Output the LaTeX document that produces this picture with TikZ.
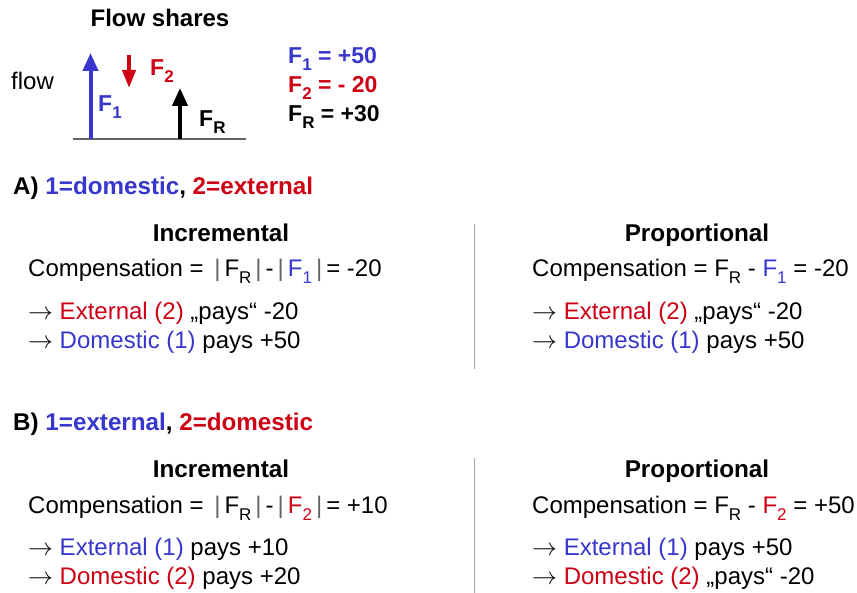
\documentclass[tikz,border=0pt]{standalone}
\usepackage{fontspec}
\setmainfont{Liberation Sans}
\usetikzlibrary{arrows.meta}
\definecolor{myblue}{RGB}{55,55,205}
\definecolor{myred}{RGB}{205,0,20}
\newcommand\sbs[1]{\raisebox{-7pt}{\fontsize{17}{17}\selectfont #1}}
\newcommand\ab{{\color{gray!80!black}\,|\,}}
\newcommand\ra{$\rightarrow$}
\begin{document}
\begin{tikzpicture}[x=1pt,y=-1pt,
  body/.style={inner sep=0pt,anchor=base west,font=\fontsize{24}{28}\selectfont},
  ttl/.style={inner sep=0pt,anchor=base,font=\fontsize{24.3}{28}\selectfont\bfseries},
  hdr/.style={inner sep=0pt,anchor=base west,font=\fontsize{24.2}{28}\selectfont\bfseries},
  lbl/.style={inner sep=0pt,anchor=base west,font=\fontsize{23}{26}\selectfont\bfseries},
  farrow/.style={line width=4pt,-{Triangle[width=15pt,length=18pt]}},
  divider/.style={draw=gray!70,line width=0.8pt}]
\useasboundingbox (0,0) rectangle (857,593);
% top panel
\node[ttl,font=\fontsize{24}{28}\selectfont\bfseries] (fs) at (160,27) {Flow shares};
\node[body,font=\fontsize{24}{28}\selectfont] (flow) at (11,90) {flow};
\coordinate (bl) at (73,139);
\coordinate (br) at (246,139);
\draw[gray!80!black,line width=1.5pt] (bl) -- (br);
\coordinate (f1s) at (90.5,139);
\coordinate (f1e) at (90.5,53);
\coordinate (f2s) at (129,55);
\coordinate (f2e) at (129,88);
\coordinate (frs) at (180,139);
\coordinate (fre) at (180,88);
\draw[farrow,myblue] (f1s) -- (f1e);
\draw[farrow,myred,-{Triangle[width=13pt,length=18pt]}] (f2s) -- (f2e);
\draw[farrow,black] (frs) -- (fre);
\node[lbl,myblue] (lf1) at (98,112) {F\sbs{1}};
\node[lbl,myred] (lf2) at (150,76) {F\sbs{2}};
\node[lbl] (lfr) at (199,127) {F\sbs{R}};
\node[lbl,myblue] (v1) at (288,64) {F\sbs{1} = +50};
\node[lbl,myred] (v2) at (288,93) {F\sbs{2} = - 20};
\node[lbl] (vr) at (288,122) {F\sbs{R} = +30};
% section A
\node[hdr] (ha) at (13,195) {A) {\color{myblue}1=domestic}, {\color{myred}2=external}};
\node[ttl] (ia) at (221,242) {Incremental};
\node[ttl] (pa) at (697,242) {Proportional};
\node[body] (ca) at (28,277) {Compensation = \ab F\sbs{R}\ab-\ab{\color{myblue}F\sbs{1}}\ab= -20};
\node[body] (cpa) at (532,277) {Compensation = F\sbs{R} - {\color{myblue}F\sbs{1}} = -20};
\node[body] (a1) at (28,320) {\ra{} {\color{myred}External (2)} „pays“ -20};
\node[body] (a2) at (28,349) {\ra{} {\color{myblue}Domestic (1)} pays +50};
\node[body] (a3) at (532,320) {\ra{} {\color{myred}External (2)} „pays“ -20};
\node[body] (a4) at (532,349) {\ra{} {\color{myblue}Domestic (1)} pays +50};
\coordinate (da1) at (474,224);
\coordinate (da2) at (474,369);
\draw[divider] (da1) -- (da2);
% section B
\node[hdr] (hb) at (13,431) {B) {\color{myblue}1=external}, {\color{myred}2=domestic}};
\node[ttl] (ib) at (221,477) {Incremental};
\node[ttl] (pb) at (697,477) {Proportional};
\node[body] (cb) at (28,513) {Compensation = \ab F\sbs{R}\ab-\ab{\color{myred}F\sbs{2}}\ab= +10};
\node[body] (cpb) at (532,513) {Compensation = F\sbs{R} - {\color{myred}F\sbs{2}} = +50};
\node[body] (b1) at (28,555) {\ra{} {\color{myblue}External (1)} pays +10};
\node[body] (b2) at (28,584) {\ra{} {\color{myred}Domestic (2)} pays +20};
\node[body] (b3) at (532,555) {\ra{} {\color{myblue}External (1)} pays +50};
\node[body] (b4) at (532,584) {\ra{} {\color{myred}Domestic (2)} „pays“ -20};
\coordinate (db1) at (474,458);
\coordinate (db2) at (474,593);
\draw[divider] (db1) -- (db2);
\end{tikzpicture}
\end{document}
